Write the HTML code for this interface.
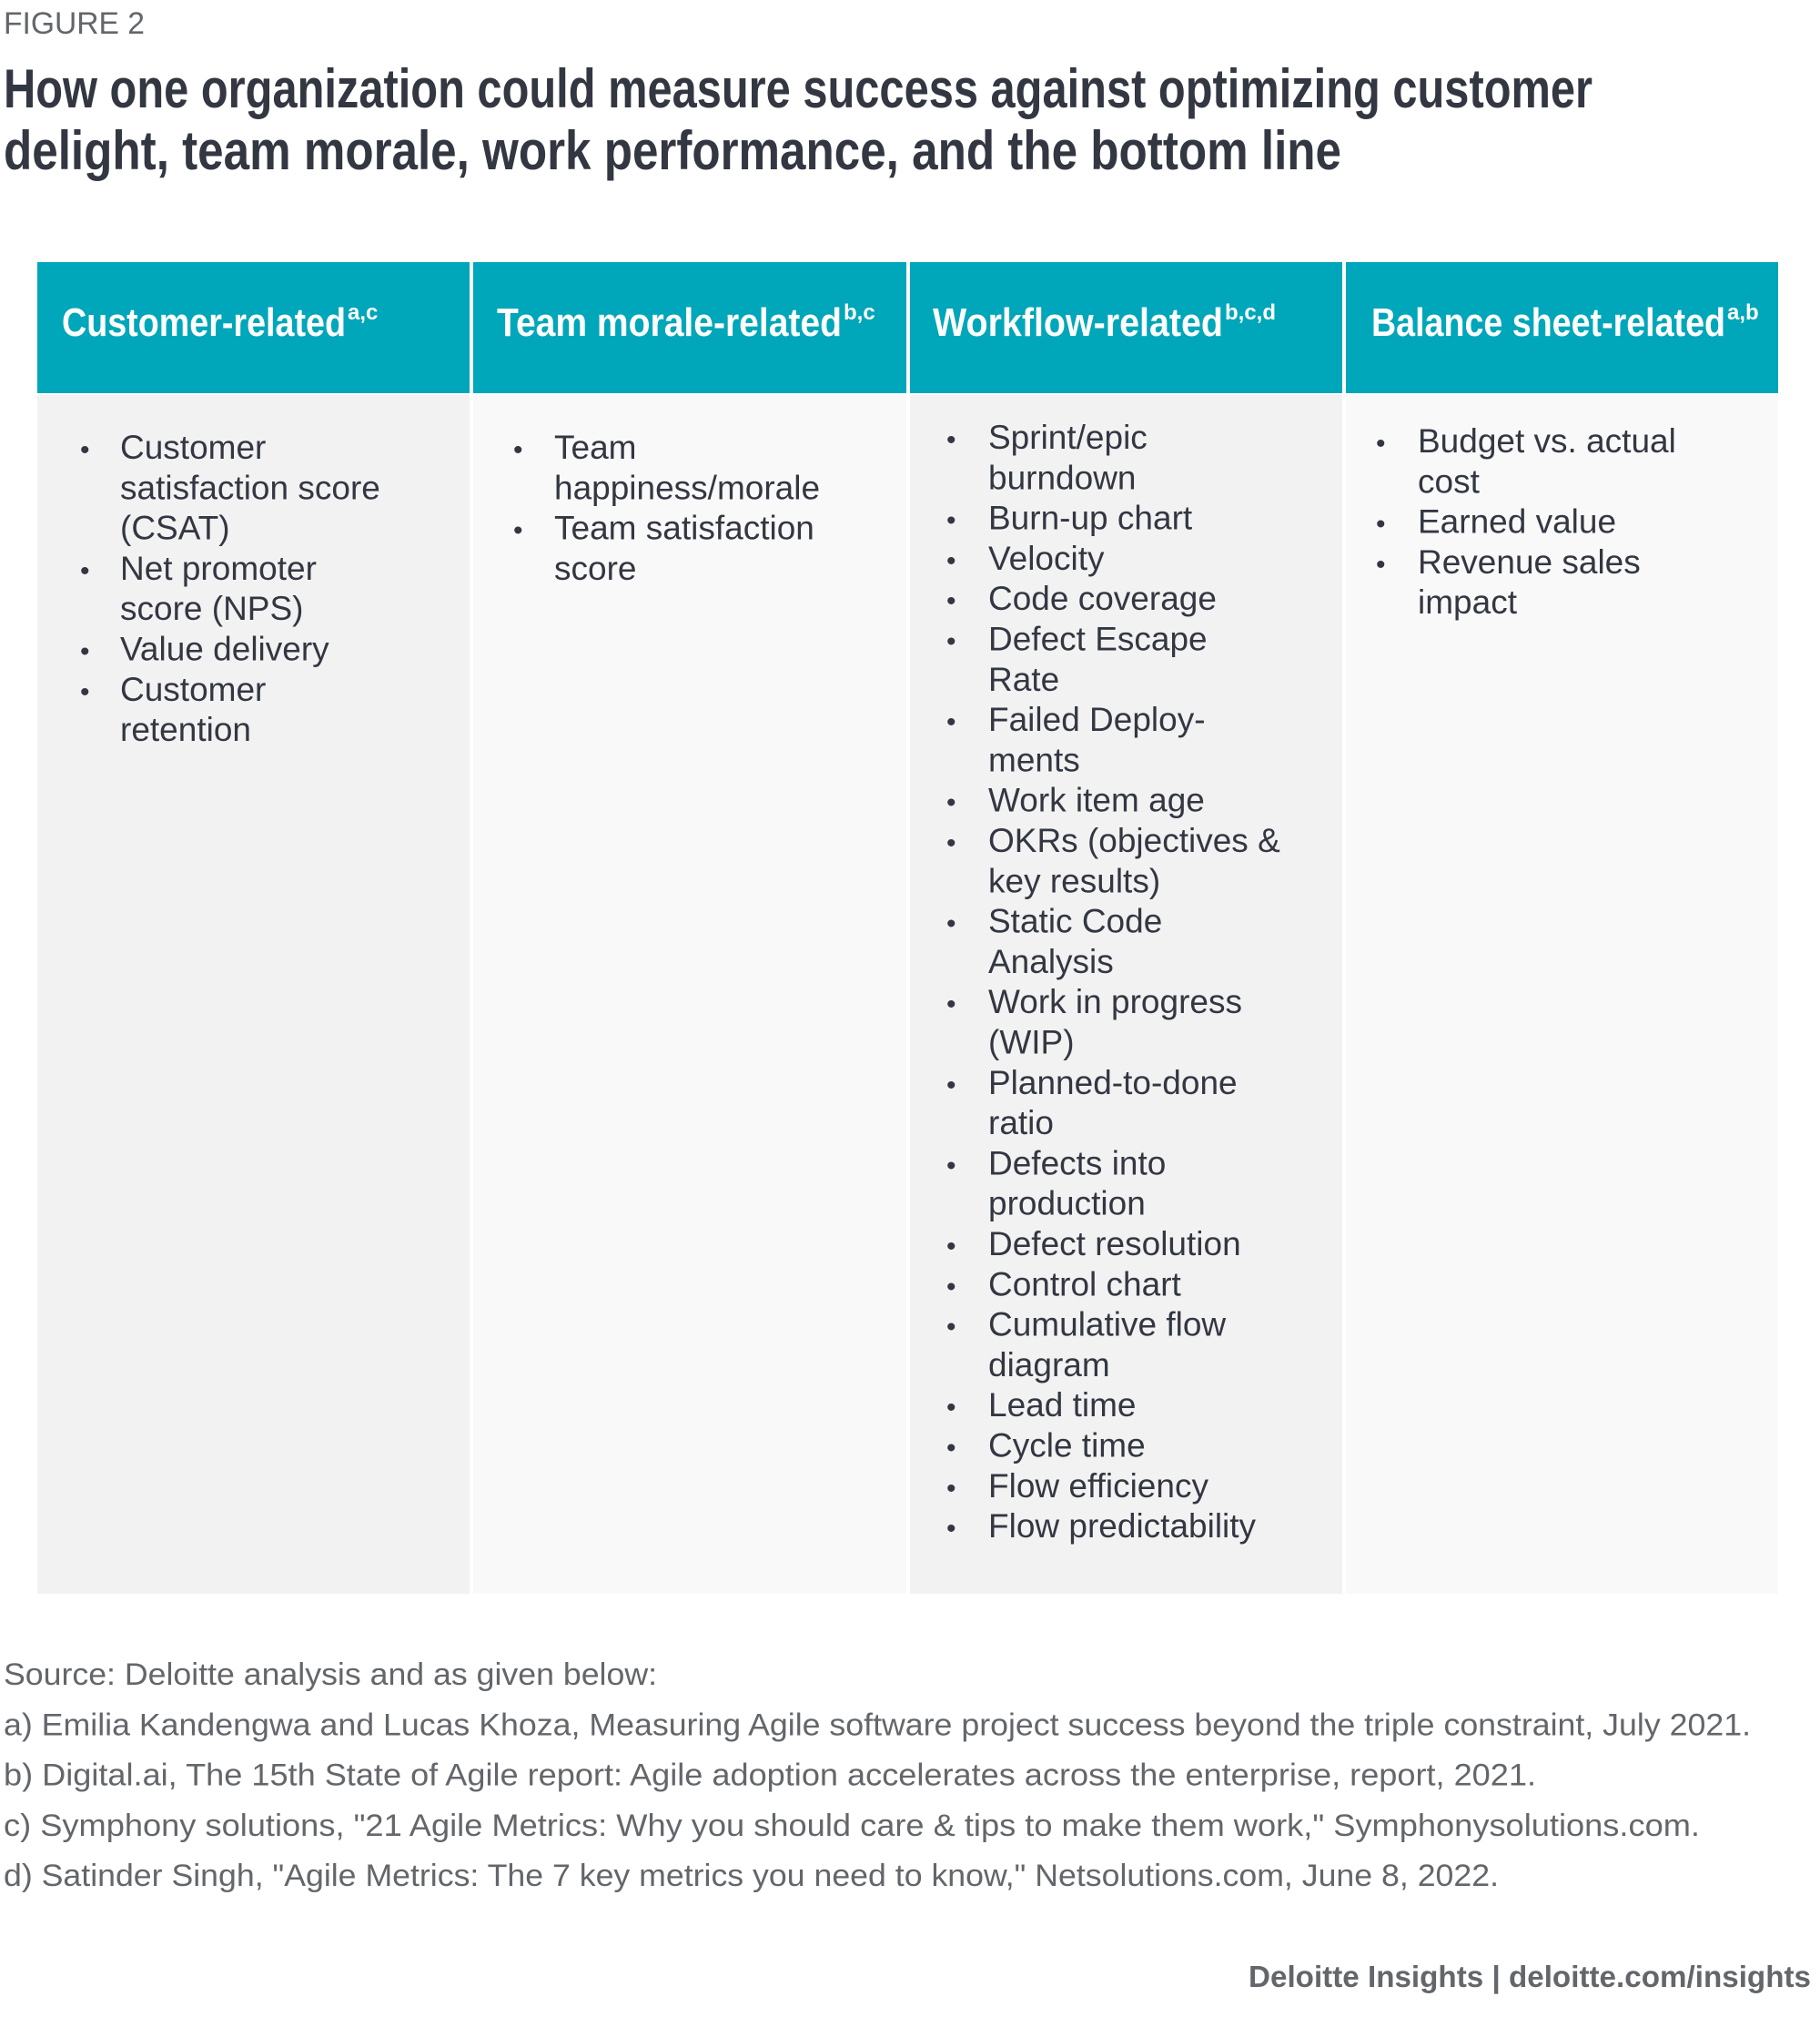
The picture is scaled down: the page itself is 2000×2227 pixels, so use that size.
<!DOCTYPE html>
<html><head><meta charset="utf-8"><style>
html,body{margin:0;padding:0;background:#fff;}
svg{display:block;}
text{font-family:"Liberation Sans",sans-serif;}
</style></head><body>
<svg id="s" width="2000" height="2227" viewBox="0 0 2000 2227">
<text x="4" y="37" font-size="34" fill="#63666a" textLength="155" lengthAdjust="spacingAndGlyphs">FIGURE 2</text>
<text x="4" y="118" font-size="60" font-weight="bold" fill="#333742" textLength="1746" lengthAdjust="spacingAndGlyphs">How one organization could measure success against optimizing customer</text>
<text x="4" y="186" font-size="60" font-weight="bold" fill="#333742" textLength="1470" lengthAdjust="spacingAndGlyphs">delight, team morale, work performance, and the bottom line</text>
<g id="tbl"></g>
<g id="notes"></g>
<text x="1990" y="2183" text-anchor="end" font-size="33" font-weight="bold" fill="#63666a" textLength="618" lengthAdjust="spacingAndGlyphs">Deloitte Insights | deloitte.com/insights</text>
</svg>
<script>
const NS="http://www.w3.org/2000/svg";
const cols=[
 {x:41,w:475,bg:"#f2f2f2",title:"Customer-related",sup:"a,c",tx:68,tw:312,first:504,bx:88,txx:132,
  items:[["Customer","satisfaction score","(CSAT)"],["Net promoter","score (NPS)"],["Value delivery"],["Customer","retention"]]},
 {x:520,w:476,bg:"#f9f9f9",title:"Team morale-related",sup:"b,c",tx:546,tw:379,first:504,bx:564,txx:609,
  items:[["Team","happiness/morale"],["Team satisfaction","score"]]},
 {x:1000,w:475,bg:"#f2f2f2",title:"Workflow-related",sup:"b,c,d",tx:1025,tw:319,first:493,bx:1040,txx:1086,
  items:[["Sprint/epic","burndown"],["Burn-up chart"],["Velocity"],["Code coverage"],["Defect Escape","Rate"],["Failed Deploy-","ments"],["Work item age"],["OKRs (objectives &","key results)"],["Static Code","Analysis"],["Work in progress","(WIP)"],["Planned-to-done","ratio"],["Defects into","production"],["Defect resolution"],["Control chart"],["Cumulative flow","diagram"],["Lead time"],["Cycle time"],["Flow efficiency"],["Flow predictability"]]},
 {x:1479,w:475,bg:"#f9f9f9",title:"Balance sheet-related",sup:"a,b",tx:1507,tw:389,first:497,bx:1512,txx:1558,
  items:[["Budget vs. actual","cost"],["Earned value"],["Revenue sales","impact"]]}
];
const notes=[
 ["Source: Deloitte analysis and as given below:",718],
 ["a) Emilia Kandengwa and Lucas Khoza, Measuring Agile software project success beyond the triple constraint, July 2021.",1920],
 ["b) Digital.ai, The 15th State of Agile report: Agile adoption accelerates across the enterprise, report, 2021.",1684],
 ["c) Symphony solutions, \"21 Agile Metrics: Why you should care & tips to make them work,\" Symphonysolutions.com.",1864],
 ["d) Satinder Singh, \"Agile Metrics: The 7 key metrics you need to know,\" Netsolutions.com, June 8, 2022.",1643]
];
function mk(tag,attrs,parent,txt){const e=document.createElementNS(NS,tag);for(const k in attrs)e.setAttribute(k,attrs[k]);if(txt!==undefined)e.textContent=txt;parent.appendChild(e);return e;}
const tbl=document.getElementById('tbl');
const LH=44.3;
cols.forEach((c,i)=>{
 const g=mk('g',{},tbl);
 
 
 const h=mk('rect',{x:c.x,y:288,width:c.w,height:144,fill:"#00a6b9"},g);
 
 
 const b=mk('rect',{x:c.x,y:434,width:c.w,height:1317,fill:c.bg},g);
 
 
 const t=mk('text',{x:c.tx,y:369,"font-size":44,"font-weight":"bold",fill:"#fff",textLength:c.tw,lengthAdjust:"spacingAndGlyphs"},g,c.title);
 
 
 const s=mk('text',{x:c.tx+c.tw+2,y:351,"font-size":24,"font-weight":"bold",fill:"#fff"},g,c.sup);
 
 
 let line=0;
 c.items.forEach(it=>{
  const y0=c.first+line*LH;
  const bu=mk('text',{x:c.bx,y:y0,"font-size":30,fill:"#333742"},g,"•");
  
  
  const tx=mk('text',{x:c.txx,y:y0,"font-size":37,fill:"#333742"},g);
  
  
  it.forEach((l,j)=>{mk('tspan',{x:c.txx,y:y0+j*LH},tx,l);});
  line+=it.length;
 });
});
const ng=document.getElementById('notes');
notes.forEach((n,i)=>{
 const e=mk('text',{x:4,y:1851+i*55.3,"font-size":34,fill:"#63666a",textLength:n[1],lengthAdjust:"spacingAndGlyphs"},ng,n[0]);
 
 
});
</script>
</body></html>
